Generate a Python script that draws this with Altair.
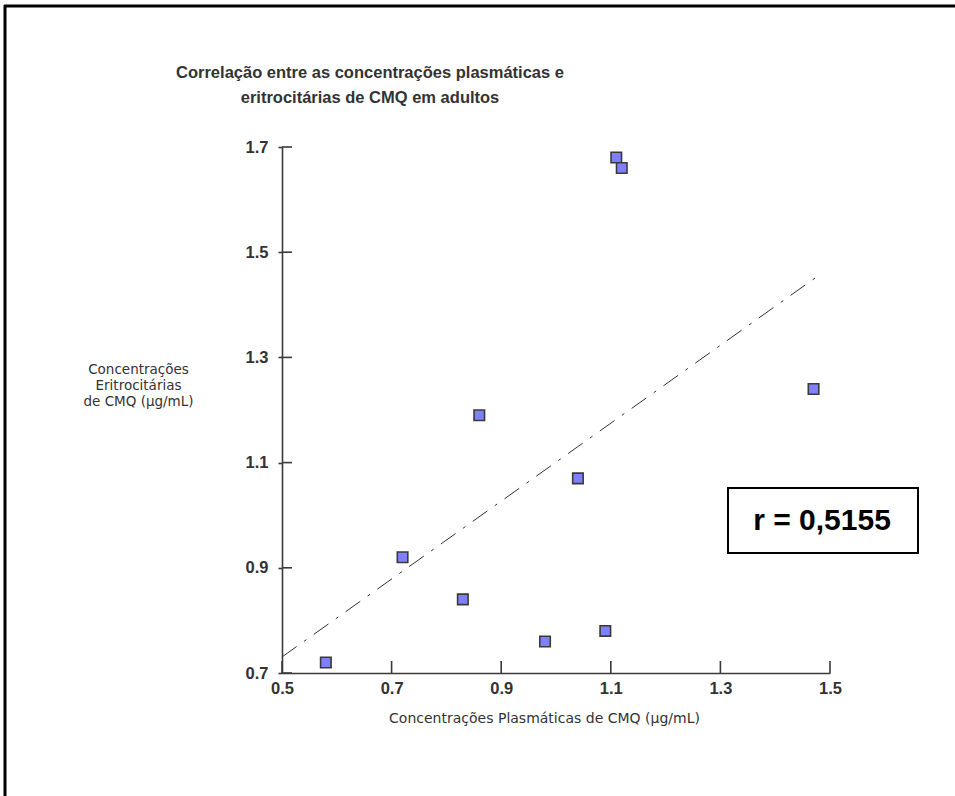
import altair as alt
import pandas as pd

# ---- data ----
x_vals = [0.58, 0.72, 0.83, 0.86, 0.98, 1.04, 1.09, 1.11, 1.12, 1.47]
y_vals = [0.72, 0.92, 0.84, 1.19, 0.76, 1.07, 0.78, 1.68, 1.66, 1.24]
x_ticks = [0.5, 0.7, 0.9, 1.1, 1.3, 1.5]
y_ticks = [0.7, 0.9, 1.1, 1.3, 1.5, 1.7]
title_lines = ["Correlação entre as concentrações plasmáticas e",
               "eritrocitárias de CMQ em adultos"]
x_title = "Concentrações Plasmáticas de CMQ (µg/mL)"
y_title = ["Concentrações", "Eritrocitárias", "de CMQ (µg/mL)"]
r_label = ["r = 0,5155"]

W, H = 548, 526
LEFT, TOP = 282, 147
TXT = "#333333"
AX = "#3a3a3a"

df = pd.DataFrame({"x": x_vals, "y": y_vals})
xs = alt.Scale(domain=[0.5, 1.5], nice=False, zero=False)
ys = alt.Scale(domain=[0.7, 1.7], nice=False, zero=False)

x_axis = alt.Axis(values=x_ticks, format=".1f", title=x_title, ticks=False,
                  labelPadding=7, labelFlush=False, labelFont="Liberation Sans",
                  labelFontSize=16.5, labelFontWeight="bold", labelColor=TXT,
                  domainColor=AX, domainWidth=1.6, grid=False,
                  titleFont="DejaVu Sans", titleFontSize=14,
                  titleFontWeight="normal", titleColor=TXT,
                  titleX=262, titleY=45, titleBaseline="middle", titleAlign="center")
y_axis = alt.Axis(values=y_ticks, format=".1f", title=y_title, tickSize=4,
                  tickColor=AX, tickWidth=1.6, labelFlush=False,
                  labelPadding=10, labelFont="Liberation Sans", labelFontSize=16.5,
                  labelFontWeight="bold", labelColor=TXT, domainColor=AX,
                  domainWidth=1.6, grid=False, titleFont="DejaVu Sans",
                  titleFontSize=13.5, titleFontWeight="normal", titleColor=TXT,
                  titleAngle=0, titleX=-144, titleY=222, titleAlign="center",
                  titleBaseline="middle", titleLineHeight=16)

points = alt.Chart(df).mark_square(size=110, fill="#8080ff", stroke="#3a3a3a",
                                   strokeWidth=1.6, opacity=1).encode(
    x=alt.X("x:Q", scale=xs, axis=x_axis),
    y=alt.Y("y:Q", scale=ys, axis=y_axis),
)

reg = alt.Chart(df).transform_regression("x", "y", extent=[0.5, 1.48]).mark_line(
    color="#333333", strokeWidth=1, strokeDash=[18, 9, 3, 9]).encode(
    x=alt.X("x:Q", scale=xs),
    y=alt.Y("y:Q", scale=ys),
)

yt = alt.Chart(pd.DataFrame({"y": y_ticks})).mark_rule(
    color=AX, strokeWidth=1.6).encode(
    y=alt.Y("y:Q", scale=ys),
    x=alt.value(0), x2=alt.value(10))

xt = alt.Chart(pd.DataFrame({"x": x_ticks})).mark_rule(
    color=AX, strokeWidth=1.6).encode(
    x=alt.X("x:Q", scale=xs),
    y=alt.value(H), y2=alt.value(H - 12))

one = pd.DataFrame({"label": r_label})
box = alt.Chart(one).mark_rect(fill="white", stroke="black", strokeWidth=2).encode(
    x=alt.value(446), x2=alt.value(636), y=alt.value(341), y2=alt.value(406))
rtext = alt.Chart(one).mark_text(font="Liberation Sans", fontSize=30,
                                 fontWeight="bold", color="black",
                                 align="center", baseline="middle").encode(
    text="label:N", x=alt.value(540), y=alt.value(374))

frame_left = alt.Chart(one).mark_rule(color="black", strokeWidth=3).encode(
    x=alt.value(5 - LEFT), y=alt.value(5 - TOP), y2=alt.value(796 - TOP))
frame_top = alt.Chart(one).mark_rule(color="black", strokeWidth=3).encode(
    x=alt.value(4 - LEFT), x2=alt.value(955 - LEFT), y=alt.value(6 - TOP))

chart = alt.layer(points, reg, yt, xt, box, rtext, frame_left, frame_top).properties(
    width=W, height=H,
    padding={"left": LEFT, "top": TOP, "right": 955 - LEFT - W, "bottom": 796 - TOP - H},
    autosize=alt.AutoSizeParams(type="none"),
    title=alt.TitleParams(text=title_lines, anchor="middle", frame="group", dx=-186,
                          fontSize=16.5, font="Liberation Sans", fontWeight="bold",
                          color=TXT, lineHeight=25, offset=-103),
    background="white",
).configure_view(stroke=None)

chart.save("out.html", embed_options={"renderer": "svg", "actions": False})
